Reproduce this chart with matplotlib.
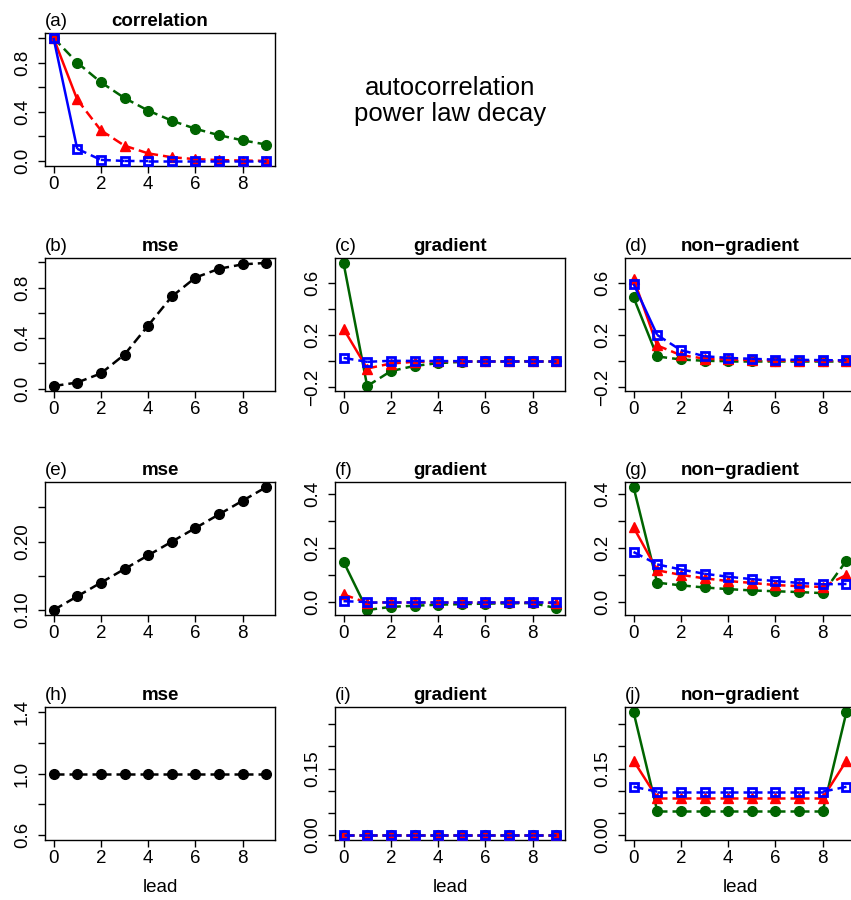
import numpy as np
import matplotlib
matplotlib.use("Agg")
import matplotlib.pyplot as plt

plt.rcParams["font.family"] = ["Liberation Sans", "DejaVu Sans"]

lead = [0, 1, 2, 3, 4, 5, 6, 7, 8, 9]

# (a) correlation
corr_green = [1.0, 0.80, 0.64, 0.512, 0.41, 0.328, 0.262, 0.21, 0.168, 0.134]
corr_red = [1.0, 0.50, 0.25, 0.125, 0.0625, 0.031, 0.016, 0.008, 0.004, 0.002]
corr_blue = [1.0, 0.10, 0.01, 0.001, 0.0, 0.0, 0.0, 0.0, 0.0, 0.0]

# (b) mse
mse_b = [0.02, 0.048, 0.12, 0.27, 0.50, 0.73, 0.88, 0.95, 0.985, 0.996]
# (c) gradient
grad_c_green = [0.75, -0.19, -0.076, -0.036, -0.015, -0.005, -0.002, -0.001, 0.0, 0.0]
grad_c_red = [0.247, -0.056, -0.018, -0.005, -0.002, 0.0, 0.0, 0.0, 0.0, 0.0]
grad_c_blue = [0.025, -0.005, 0.003, 0.002, 0.001, 0.0, 0.0, 0.0, 0.0, 0.0]
# (d) non-gradient
ng_d_green = [0.487, 0.036, 0.013, 0.003, 0.0, 0.0, 0.0, 0.0, 0.0, 0.0]
ng_d_red = [0.63, 0.12, 0.046, 0.02, 0.013, 0.008, 0.005, 0.004, 0.003, 0.002]
ng_d_blue = [0.59, 0.20, 0.084, 0.038, 0.025, 0.018, 0.012, 0.01, 0.008, 0.006]

# (e) mse
mse_e = [0.10, 0.12, 0.14, 0.16, 0.18, 0.20, 0.22, 0.24, 0.26, 0.28]
# (f) gradient
grad_f_green = [0.149, -0.031, -0.019, -0.015, -0.011, -0.009, -0.007, -0.006, -0.005, -0.024]
grad_f_red = [0.027, -0.004, -0.002, -0.002, -0.002, -0.002, -0.002, -0.002, -0.002, -0.005]
grad_f_blue = [0.002, -0.001, -0.001, -0.001, -0.001, -0.001, -0.001, -0.001, -0.001, -0.001]
# (g) non-gradient
ng_g_green = [0.427, 0.071, 0.061, 0.053, 0.047, 0.042, 0.039, 0.036, 0.032, 0.153]
ng_g_red = [0.277, 0.117, 0.10, 0.087, 0.077, 0.07, 0.062, 0.058, 0.055, 0.10]
ng_g_blue = [0.185, 0.139, 0.12, 0.104, 0.093, 0.084, 0.077, 0.07, 0.065, 0.066]

# (h) mse
mse_h = [1.0, 1.0, 1.0, 1.0, 1.0, 1.0, 1.0, 1.0, 1.0, 1.0]
# (i) gradient
grad_i_green = [0.0] * 10
grad_i_red = [0.0] * 10
grad_i_blue = [0.0] * 10
# (j) non-gradient
ng_j_green = [0.278, 0.055, 0.055, 0.055, 0.055, 0.055, 0.055, 0.055, 0.055, 0.278]
ng_j_red = [0.168, 0.084, 0.084, 0.084, 0.084, 0.084, 0.084, 0.084, 0.084, 0.168]
ng_j_blue = [0.109, 0.098, 0.098, 0.098, 0.098, 0.098, 0.098, 0.098, 0.098, 0.109]

GREEN = "#006400"
RED = "#FF0000"
BLUE = "#0000FF"
BLACK = "#000000"

W, H = 851, 900
fig = plt.figure(figsize=(W / 100, H / 100), dpi=100)

col_left = [45, 335, 625]
row_top = [33, 258, 482, 707]
AW, AH = 230, 133
FS = 13.5
LW = 1.8


def make_ax(r, c):
    left = col_left[c]
    top = row_top[r]
    return fig.add_axes([left / W, 1 - (top + AH) / H, AW / W, AH / H])


def rlim(lo, hi):
    if hi == lo:
        lo, hi = lo - 0.4 * abs(lo), hi + 0.4 * abs(hi)
    d = (hi - lo) * 0.04
    return lo - d, hi + d


def style(kind):
    if kind == "green":
        return dict(color=GREEN, marker="o", ms=7, mfc=GREEN, mec=GREEN, mew=1)
    if kind == "red":
        return dict(color=RED, marker="^", ms=7, mfc=RED, mec=RED, mew=1)
    if kind == "blue":
        return dict(color=BLUE, marker="s", ms=5.5, mfc="none", mec=BLUE, mew=2)
    return dict(color=BLACK, marker="o", ms=7, mfc=BLACK, mec=BLACK, mew=1)


def draw_series(ax, y, kind, z):
    st = style(kind)
    pts = ax.transData.transform(np.column_stack([lead, y]))
    for k in range(len(lead) - 1):
        seglen = np.hypot(*(pts[k + 1] - pts[k]))
        if seglen > 42:
            ax.plot(lead[k:k + 2], y[k:k + 2], color=st["color"], lw=LW,
                    ls="-", zorder=z, solid_capstyle="butt")
        else:
            ax.plot(lead[k:k + 2], y[k:k + 2], color=st["color"], lw=LW,
                    ls=(0, (4, 2)), zorder=z, dash_capstyle="butt")
    ax.plot(lead, y, ls="none", marker=st["marker"], ms=st["ms"],
            mfc=st["mfc"], mec=st["mec"], mew=st["mew"], zorder=z + 0.5)


def setup(ax, label, title, ylim, yticks, ylabels, xlabel=False):
    ax.set_xlim(-0.36, 9.36)
    ax.set_ylim(*ylim)
    ax.set_xticks([0, 2, 4, 6, 8])
    ax.set_xticklabels(["0", "2", "4", "6", "8"], fontsize=FS)
    ax.set_yticks(yticks)
    ax.set_yticklabels(ylabels, fontsize=FS, rotation=90, va="center")
    ax.tick_params(direction="out", length=5, width=1, color="black")
    ax.tick_params(axis="x", pad=2)
    ax.tick_params(axis="y", pad=5)
    for s in ax.spines.values():
        s.set_linewidth(1.0)
    ax.set_title(title, fontsize=FS, fontweight="bold", pad=5)
    ax.set_title(label, fontsize=FS, loc="left", pad=5)
    if xlabel:
        ax.set_xlabel("lead", fontsize=FS, labelpad=9)


MINUS = "\u2212"

# Row 1
ax = make_ax(0, 0)
yl = rlim(min(corr_green + corr_red + corr_blue), max(corr_green + corr_red + corr_blue))
setup(ax, "(a)", "correlation", yl, [0, 0.2, 0.4, 0.6, 0.8, 1.0],
      ["0.0", "", "0.4", "", "0.8", ""])
draw_series(ax, corr_green, "green", 2)
draw_series(ax, corr_red, "red", 3)
draw_series(ax, corr_blue, "blue", 4)

fig.text(450 / W, 1 - 101 / H, "autocorrelation\npower law decay",
         ha="center", va="center", fontsize=18.5, linespacing=1.1)

# Row 2
ax = make_ax(1, 0)
setup(ax, "(b)", "mse", rlim(min(mse_b), max(mse_b)), [0, 0.2, 0.4, 0.6, 0.8, 1.0],
      ["0.0", "", "0.4", "", "0.8", ""])
draw_series(ax, mse_b, "black", 2)

row2 = grad_c_green + grad_c_red + grad_c_blue + ng_d_green + ng_d_red + ng_d_blue
yl = rlim(min(row2), max(row2))
ax = make_ax(1, 1)
setup(ax, "(c)", "gradient", yl, [-0.2, 0, 0.2, 0.4, 0.6],
      [MINUS + "0.2", "", "0.2", "", "0.6"])
draw_series(ax, grad_c_green, "green", 2)
draw_series(ax, grad_c_red, "red", 3)
draw_series(ax, grad_c_blue, "blue", 4)
ax = make_ax(1, 2)
setup(ax, "(d)", "non\u2212gradient", yl, [-0.2, 0, 0.2, 0.4, 0.6],
      [MINUS + "0.2", "", "0.2", "", "0.6"])
draw_series(ax, ng_d_green, "green", 2)
draw_series(ax, ng_d_red, "red", 3)
draw_series(ax, ng_d_blue, "blue", 4)

# Row 3
ax = make_ax(2, 0)
setup(ax, "(e)", "mse", rlim(min(mse_e), max(mse_e)), [0.10, 0.15, 0.20, 0.25],
      ["0.10", "", "0.20", ""])
draw_series(ax, mse_e, "black", 2)

row3 = grad_f_green + grad_f_red + grad_f_blue + ng_g_green + ng_g_red + ng_g_blue
yl = rlim(min(row3), max(row3))
ax = make_ax(2, 1)
setup(ax, "(f)", "gradient", yl, [0, 0.1, 0.2, 0.3, 0.4],
      ["0.0", "", "0.2", "", "0.4"])
draw_series(ax, grad_f_green, "green", 2)
draw_series(ax, grad_f_red, "red", 3)
draw_series(ax, grad_f_blue, "blue", 4)
ax = make_ax(2, 2)
setup(ax, "(g)", "non\u2212gradient", yl, [0, 0.1, 0.2, 0.3, 0.4],
      ["0.0", "", "0.2", "", "0.4"])
draw_series(ax, ng_g_green, "green", 2)
draw_series(ax, ng_g_red, "red", 3)
draw_series(ax, ng_g_blue, "blue", 4)

# Row 4
ax = make_ax(3, 0)
setup(ax, "(h)", "mse", rlim(min(mse_h), max(mse_h)), [0.6, 0.8, 1.0, 1.2, 1.4],
      ["0.6", "", "1.0", "", "1.4"], xlabel=True)
draw_series(ax, mse_h, "black", 2)

row4 = grad_i_green + grad_i_red + grad_i_blue + ng_j_green + ng_j_red + ng_j_blue
yl = rlim(min(row4), max(row4))
ax = make_ax(3, 1)
setup(ax, "(i)", "gradient", yl, [0, 0.05, 0.10, 0.15, 0.20, 0.25],
      ["0.00", "", "", "0.15", "", ""], xlabel=True)
draw_series(ax, grad_i_green, "green", 2)
draw_series(ax, grad_i_red, "red", 3)
draw_series(ax, grad_i_blue, "blue", 4)
ax = make_ax(3, 2)
setup(ax, "(j)", "non\u2212gradient", yl, [0, 0.05, 0.10, 0.15, 0.20, 0.25],
      ["0.00", "", "", "0.15", "", ""], xlabel=True)
draw_series(ax, ng_j_green, "green", 2)
draw_series(ax, ng_j_red, "red", 3)
draw_series(ax, ng_j_blue, "blue", 4)

fig.savefig("out.png", dpi=100)
